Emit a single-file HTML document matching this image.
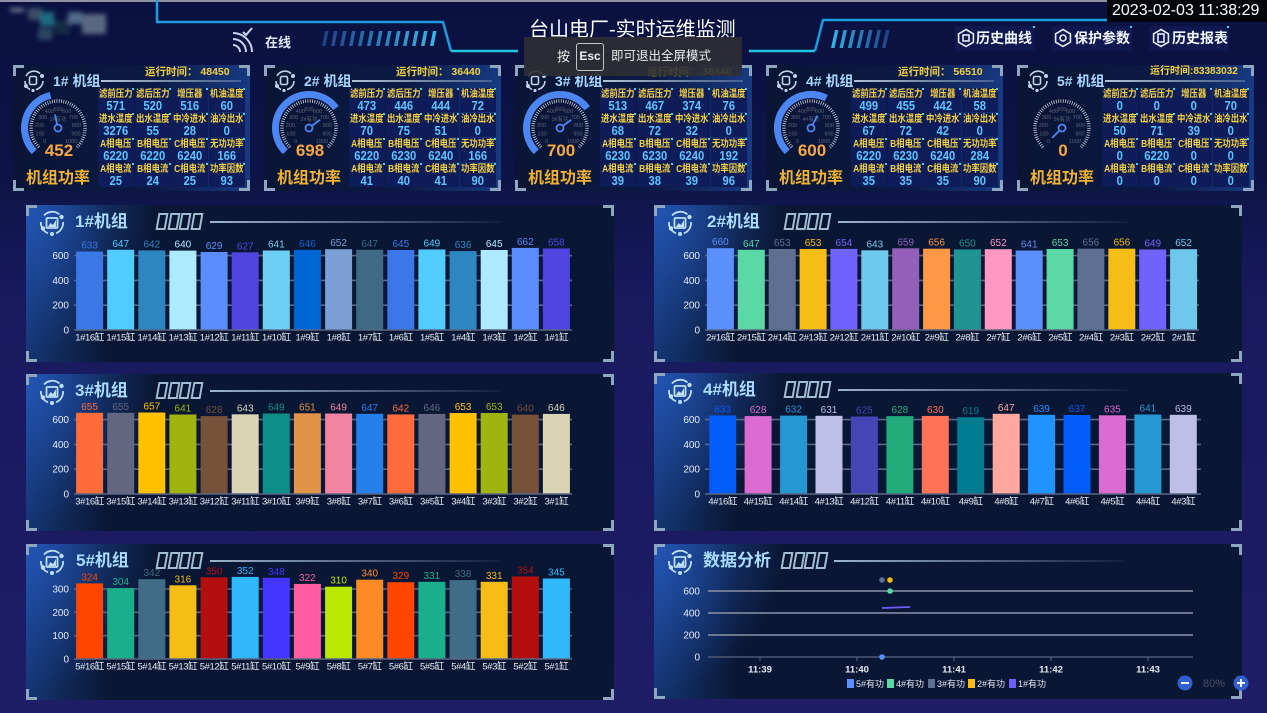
<!DOCTYPE html>
<html><head><meta charset="utf-8">
<style>
*{box-sizing:border-box;margin:0;padding:0}
body{width:1267px;height:713px;overflow:hidden;position:relative;font-family:"Liberation Sans","Noto Sans CJK SC",sans-serif;background:linear-gradient(180deg,#0a1140 0%,#0d1548 26%,#19195e 42%,#1e1d66 100%);}
.card{position:absolute;top:65px;width:237px;height:126px;background:linear-gradient(90deg,#0a1535 0%,#0b1a44 60%,#173a82 100%);}
.br{position:absolute;width:11px;height:11px;border-color:#8ea6be;border-style:solid;border-width:0}
.tl{left:0;top:0;border-left-width:3px;border-top-width:3px}
.tr{right:0;top:0;border-right-width:3px;border-top-width:3px}
.bl{left:0;bottom:0;border-left-width:3px;border-bottom-width:3px}
.bR{right:0;bottom:0;border-right-width:3px;border-bottom-width:3px}
.ct{position:absolute;left:40px;top:7px;font-size:14px;font-weight:bold;color:#a8d8ff;line-height:18px;white-space:nowrap}
.cl{position:absolute;left:88px;top:15px;width:140px;height:2px;background:linear-gradient(90deg,#b0c4d8,rgba(160,180,200,0.35))}
.rt{position:absolute;top:1px;font-size:10.5px;font-weight:bold;color:#f2d040;white-space:nowrap;line-height:12px}
.grid{position:absolute;left:85px;top:23px;width:147px;height:100px;display:grid;grid-template-columns:repeat(4,35.5px);grid-template-rows:repeat(4,24px);gap:1px 1.5px}
.cell{background:#0e1c5a;position:relative;text-align:center;overflow:hidden}
.cell:after{content:"";position:absolute;right:0;top:0;width:2px;height:2px;background:#35d6f0}
.lb{display:block;font-size:10px;font-weight:bold;color:#f5d23f;line-height:11px;margin-top:1px;white-space:nowrap;transform:scaleX(0.84);margin-left:-6px;margin-right:-6px}
.vl{display:block;font-size:12.5px;font-weight:bold;color:#5cc4ff;line-height:13px;transform:scaleX(0.9)}
.gv{position:absolute;left:1px;width:90px;top:77px;text-align:center;font-size:17px;font-weight:bold;color:#f6a742;line-height:18px}
.gt{position:absolute;left:0;width:90px;top:105px;text-align:center;font-size:16px;font-weight:bold;color:#f1b232;line-height:18px}
.gs{position:absolute;left:0;top:18px}
.ic{position:absolute;left:9px;top:5px}
.panel{position:absolute;width:588px;height:157px;background:radial-gradient(ellipse 130px 150px at 0% 0%,rgba(40,100,210,0.7),rgba(40,100,210,0) 100%),linear-gradient(90deg,rgba(30,80,170,0.55) 0%,rgba(30,80,170,0) 14%),#0a1734;}
.pi{position:absolute;left:12px;top:4px}
.pt{position:absolute;left:49px;top:7px;font-size:17px;font-weight:bold;color:#a9dcff;line-height:20px;white-space:nowrap}
.tofu{position:absolute;left:131px;top:8px;white-space:nowrap;font-size:0}
.tofu i{display:inline-block;width:9.5px;height:17px;border:2px solid #a3bdd0;margin-right:2px;transform:skewX(-10deg)}
.pl{position:absolute;left:184px;top:16px;width:290px;height:2px;background:linear-gradient(90deg,#9ab4c8,rgba(154,180,200,0.05))}
.hb{position:absolute;top:30px;font-size:14px;font-weight:bold;color:#f2f6ff;line-height:16px;white-space:nowrap}
.xl{letter-spacing:-0.4px}
</style></head>
<body>

<svg width="1267" height="64" style="position:absolute;left:0;top:0">
<defs>
<linearGradient id="sg" gradientUnits="userSpaceOnUse" x1="320" y1="0" x2="436" y2="0"><stop offset="0" stop-color="#1b3f86"/><stop offset="1" stop-color="#3ab6e8"/></linearGradient>
<linearGradient id="sg2" gradientUnits="userSpaceOnUse" x1="830" y1="0" x2="890" y2="0"><stop offset="0" stop-color="#3ab6e8"/><stop offset="1" stop-color="#1b3f86"/></linearGradient>
<filter id="bl"><feGaussianBlur stdDeviation="2.5"/></filter>
</defs>
<rect x="0" y="0" width="1267" height="2" fill="#8d93a2"/>
<g filter="url(#bl)">
<rect x="28" y="8" width="14" height="12" fill="#3d4d66"/>
<rect x="40" y="12" width="14" height="14" fill="#1c6b7e"/>
<rect x="54" y="20" width="16" height="14" fill="#122a44"/>
<rect x="68" y="12" width="14" height="12" fill="#4f6a88"/>
<rect x="82" y="14" width="24" height="20" fill="#5a6780"/>
<rect x="38" y="28" width="14" height="12" fill="#2a4460"/>
<rect x="10" y="8" width="14" height="4" fill="#6c7790"/>
</g>
<polyline points="157,0 157,22 443,22 451,51" fill="none" stroke="#1b9be0" stroke-width="2.5"/>
<polyline points="451,51 518,51" fill="none" stroke="#22c6dc" stroke-width="2.5"/>
<polyline points="749,51 815,51" fill="none" stroke="#22c6dc" stroke-width="2.5"/>
<polyline points="815,51 823,20 1110,20" fill="none" stroke="#1b9be0" stroke-width="2.5"/>
<g fill="url(#sg)">
<polygon points="325,31 328.5,31 325.5,46 322,46"/><polygon points="334,31 337.5,31 334.5,46 331,46"/><polygon points="343,31 346.5,31 343.5,46 340,46"/><polygon points="352,31 355.5,31 352.5,46 349,46"/><polygon points="361,31 364.5,31 361.5,46 358,46"/><polygon points="370,31 373.5,31 370.5,46 367,46"/><polygon points="379,31 382.5,31 379.5,46 376,46"/><polygon points="388,31 391.5,31 388.5,46 385,46"/><polygon points="397,31 400.5,31 397.5,46 394,46"/><polygon points="406,31 409.5,31 406.5,46 403,46"/><polygon points="415,31 418.5,31 415.5,46 412,46"/><polygon points="424,31 427.5,31 424.5,46 421,46"/><polygon points="433,31 436.5,31 433.5,46 430,46"/>
</g>
<g fill="url(#sg2)">
<polygon points="835,30 838.5,30 834.5,48 831,48"/><polygon points="843.5,30 847,30 843,48 839.5,48"/><polygon points="852,30 855.5,30 851.5,48 848,48"/><polygon points="860.5,30 864,30 860,48 856.5,48"/><polygon points="869,30 872.5,30 868.5,48 865,48"/><polygon points="877.5,30 881,30 877,48 873.5,48"/><polygon points="886,30 889.5,30 885.5,48 882,48"/>
</g>
<g fill="none" stroke="#c9d5e6" stroke-width="2">
<path d="M233 45 A7 7 0 0 1 240 52"/><path d="M233 39 A13 13 0 0 1 246 52"/><path d="M233 33 A19 19 0 0 1 252 52"/>
<path d="M243 32 L246 35 L252 28"/>
</g>
<rect x="955" y="26" width="80" height="25" fill="#111c55" opacity="0.7"/>
<rect x="1052" y="26" width="80" height="25" fill="#111c55" opacity="0.7"/>
<rect x="1149" y="26" width="80" height="25" fill="#111c55" opacity="0.7"/>
<g fill="#35d6f0"><rect x="1033" y="26" width="2" height="2"/><rect x="1130" y="26" width="2" height="2"/><rect x="1227" y="26" width="2" height="2"/></g>
<g fill="none" stroke="#e8eef8" stroke-width="1.6">
<polygon points="966,29.5 973.4,33.8 973.4,42.2 966,46.5 958.6,42.2 958.6,33.8"/>
<polygon points="1063,29.5 1070.4,33.8 1070.4,42.2 1063,46.5 1055.6,42.2 1055.6,33.8"/>
<polygon points="1161,29.5 1168.4,33.8 1168.4,42.2 1161,46.5 1153.6,42.2 1153.6,33.8"/>
<rect x="963" y="35" width="6" height="6"/><circle cx="1063" cy="38" r="3"/><rect x="1158" y="34" width="6" height="8"/>
</g>
<rect x="1107" y="0" width="160" height="22" fill="#03050b"/>
</svg>

<div style="position:absolute;left:1112px;top:1px;font-size:16px;color:#fff;line-height:20px;white-space:nowrap">2023-02-03 11:38:29</div>
<div style="position:absolute;left:529px;top:18px;font-size:20px;color:#fff;line-height:24px;white-space:nowrap">台山电厂-实时运维监测</div>
<div style="position:absolute;left:265px;top:35px;font-size:13px;font-weight:bold;color:#dfe8f5;line-height:16px">在线</div>
<div class="hb" style="left:976px">历史曲线</div>
<div class="hb" style="left:1074px">保护参数</div>
<div class="hb" style="left:1172px">历史报表</div>

<div class="card" style="left:13px">
<div class="br tl"></div><div class="br tr"></div><div class="br bl"></div><div class="br bR"></div>
<svg class="ic" width="24" height="22" viewBox="0 0 24 22"><g fill="none" stroke="#c3d3e6" stroke-width="1.6"><path d="M4 6 A9 9 0 0 1 18 3.5"/><path d="M21 11 A9 9 0 0 1 14 19.5"/><path d="M8 19.5 A9 9 0 0 1 3 11"/><rect x="7.5" y="6.5" width="7" height="8" rx="1.5"/></g><g fill="#c3d3e6"><circle cx="20" cy="6" r="2"/><circle cx="4" cy="16" r="2"/><circle cx="11" cy="20.5" r="1.6"/></g></svg>
<div class="ct">1# 机组</div><div class="cl"></div>
<div class="rt" style="left:132px">运行时间：&nbsp;48450</div>
<svg class="gs" width="90" height="90"><path d="M21.31 68.69 A33.5 33.5 0 0 1 37.49 12.35" stroke="#4d86f2" stroke-width="7" fill="none"/><path d="M25.91 64.09 A27 27 0 1 1 64.09 64.09" stroke="#dfe6f0" stroke-width="3.5" fill="none" stroke-dasharray="0.7 1.6"/><g font-size="5.5" fill="#5b6275" text-anchor="middle"><text x="31.6" y="60">0</text><text x="27" y="52.5">100</text><text x="26.5" y="44">200</text><text x="29.6" y="35.8">300</text><text x="36.4" y="30">400</text><text x="45" y="28">500</text><text x="53.6" y="30">600</text><text x="60.4" y="35.8">700</text><text x="63.5" y="44">800</text><text x="63" y="52.5">900</text><text x="58" y="60">1000</text><text x="45" y="38">1#有功</text></g><circle cx="45" cy="45" r="3.5" stroke="#4d86f2" stroke-width="1.8" fill="none"/><line x1="44.2" y1="41.6" x2="41.9" y2="31.4" stroke="#4d86f2" stroke-width="1.8"/></svg>
<div class="gv">452</div><div class="gt">机组功率</div>
<div class="grid">
<div class="cell"><span class="lb">滤前压力</span><span class="vl">571</span></div><div class="cell"><span class="lb">滤后压力</span><span class="vl">520</span></div><div class="cell"><span class="lb">增压器</span><span class="vl">516</span></div><div class="cell"><span class="lb">机油温度</span><span class="vl">60</span></div>
<div class="cell"><span class="lb">进水温度</span><span class="vl">3276</span></div><div class="cell"><span class="lb">出水温度</span><span class="vl">55</span></div><div class="cell"><span class="lb">中冷进水</span><span class="vl">28</span></div><div class="cell"><span class="lb">油冷出水</span><span class="vl">0</span></div>
<div class="cell"><span class="lb">A相电压</span><span class="vl">6220</span></div><div class="cell"><span class="lb">B相电压</span><span class="vl">6220</span></div><div class="cell"><span class="lb">C相电压</span><span class="vl">6240</span></div><div class="cell"><span class="lb">无功功率</span><span class="vl">166</span></div>
<div class="cell"><span class="lb">A相电流</span><span class="vl">25</span></div><div class="cell"><span class="lb">B相电流</span><span class="vl">24</span></div><div class="cell"><span class="lb">C相电流</span><span class="vl">25</span></div><div class="cell"><span class="lb">功率因数</span><span class="vl">93</span></div>
</div></div>

<div class="card" style="left:264px">
<div class="br tl"></div><div class="br tr"></div><div class="br bl"></div><div class="br bR"></div>
<svg class="ic" width="24" height="22" viewBox="0 0 24 22"><g fill="none" stroke="#c3d3e6" stroke-width="1.6"><path d="M4 6 A9 9 0 0 1 18 3.5"/><path d="M21 11 A9 9 0 0 1 14 19.5"/><path d="M8 19.5 A9 9 0 0 1 3 11"/><rect x="7.5" y="6.5" width="7" height="8" rx="1.5"/></g><g fill="#c3d3e6"><circle cx="20" cy="6" r="2"/><circle cx="4" cy="16" r="2"/><circle cx="11" cy="20.5" r="1.6"/></g></svg>
<div class="ct">2# 机组</div><div class="cl"></div>
<div class="rt" style="left:132px">运行时间：&nbsp;36440</div>
<svg class="gs" width="90" height="90"><path d="M21.31 68.69 A33.5 33.5 0 1 1 71.91 25.06" stroke="#4d86f2" stroke-width="7" fill="none"/><path d="M25.91 64.09 A27 27 0 1 1 64.09 64.09" stroke="#dfe6f0" stroke-width="3.5" fill="none" stroke-dasharray="0.7 1.6"/><g font-size="5.5" fill="#5b6275" text-anchor="middle"><text x="31.6" y="60">0</text><text x="27" y="52.5">100</text><text x="26.5" y="44">200</text><text x="29.6" y="35.8">300</text><text x="36.4" y="30">400</text><text x="45" y="28">500</text><text x="53.6" y="30">600</text><text x="60.4" y="35.8">700</text><text x="63.5" y="44">800</text><text x="63" y="52.5">900</text><text x="58" y="60">1000</text><text x="45" y="38">2#有功</text></g><circle cx="45" cy="45" r="3.5" stroke="#4d86f2" stroke-width="1.8" fill="none"/><line x1="47.8" y1="42.9" x2="56.2" y2="36.7" stroke="#4d86f2" stroke-width="1.8"/></svg>
<div class="gv">698</div><div class="gt">机组功率</div>
<div class="grid">
<div class="cell"><span class="lb">滤前压力</span><span class="vl">473</span></div><div class="cell"><span class="lb">滤后压力</span><span class="vl">446</span></div><div class="cell"><span class="lb">增压器</span><span class="vl">444</span></div><div class="cell"><span class="lb">机油温度</span><span class="vl">72</span></div>
<div class="cell"><span class="lb">进水温度</span><span class="vl">70</span></div><div class="cell"><span class="lb">出水温度</span><span class="vl">75</span></div><div class="cell"><span class="lb">中冷进水</span><span class="vl">51</span></div><div class="cell"><span class="lb">油冷出水</span><span class="vl">0</span></div>
<div class="cell"><span class="lb">A相电压</span><span class="vl">6220</span></div><div class="cell"><span class="lb">B相电压</span><span class="vl">6230</span></div><div class="cell"><span class="lb">C相电压</span><span class="vl">6240</span></div><div class="cell"><span class="lb">无功功率</span><span class="vl">166</span></div>
<div class="cell"><span class="lb">A相电流</span><span class="vl">41</span></div><div class="cell"><span class="lb">B相电流</span><span class="vl">40</span></div><div class="cell"><span class="lb">C相电流</span><span class="vl">41</span></div><div class="cell"><span class="lb">功率因数</span><span class="vl">90</span></div>
</div></div>

<div class="card" style="left:515px">
<div class="br tl"></div><div class="br tr"></div><div class="br bl"></div><div class="br bR"></div>
<svg class="ic" width="24" height="22" viewBox="0 0 24 22"><g fill="none" stroke="#c3d3e6" stroke-width="1.6"><path d="M4 6 A9 9 0 0 1 18 3.5"/><path d="M21 11 A9 9 0 0 1 14 19.5"/><path d="M8 19.5 A9 9 0 0 1 3 11"/><rect x="7.5" y="6.5" width="7" height="8" rx="1.5"/></g><g fill="#c3d3e6"><circle cx="20" cy="6" r="2"/><circle cx="4" cy="16" r="2"/><circle cx="11" cy="20.5" r="1.6"/></g></svg>
<div class="ct">3# 机组</div><div class="cl"></div>
<div class="rt" style="left:132px">运行时间：&nbsp;36440</div>
<svg class="gs" width="90" height="90"><path d="M21.31 68.69 A33.5 33.5 0 1 1 72.1 25.31" stroke="#4d86f2" stroke-width="7" fill="none"/><path d="M25.91 64.09 A27 27 0 1 1 64.09 64.09" stroke="#dfe6f0" stroke-width="3.5" fill="none" stroke-dasharray="0.7 1.6"/><g font-size="5.5" fill="#5b6275" text-anchor="middle"><text x="31.6" y="60">0</text><text x="27" y="52.5">100</text><text x="26.5" y="44">200</text><text x="29.6" y="35.8">300</text><text x="36.4" y="30">400</text><text x="45" y="28">500</text><text x="53.6" y="30">600</text><text x="60.4" y="35.8">700</text><text x="63.5" y="44">800</text><text x="63" y="52.5">900</text><text x="58" y="60">1000</text><text x="45" y="38">3#有功</text></g><circle cx="45" cy="45" r="3.5" stroke="#4d86f2" stroke-width="1.8" fill="none"/><line x1="47.8" y1="42.9" x2="56.3" y2="36.8" stroke="#4d86f2" stroke-width="1.8"/></svg>
<div class="gv">700</div><div class="gt">机组功率</div>
<div class="grid">
<div class="cell"><span class="lb">滤前压力</span><span class="vl">513</span></div><div class="cell"><span class="lb">滤后压力</span><span class="vl">467</span></div><div class="cell"><span class="lb">增压器</span><span class="vl">374</span></div><div class="cell"><span class="lb">机油温度</span><span class="vl">76</span></div>
<div class="cell"><span class="lb">进水温度</span><span class="vl">68</span></div><div class="cell"><span class="lb">出水温度</span><span class="vl">72</span></div><div class="cell"><span class="lb">中冷进水</span><span class="vl">32</span></div><div class="cell"><span class="lb">油冷出水</span><span class="vl">0</span></div>
<div class="cell"><span class="lb">A相电压</span><span class="vl">6230</span></div><div class="cell"><span class="lb">B相电压</span><span class="vl">6230</span></div><div class="cell"><span class="lb">C相电压</span><span class="vl">6240</span></div><div class="cell"><span class="lb">无功功率</span><span class="vl">192</span></div>
<div class="cell"><span class="lb">A相电流</span><span class="vl">39</span></div><div class="cell"><span class="lb">B相电流</span><span class="vl">38</span></div><div class="cell"><span class="lb">C相电流</span><span class="vl">39</span></div><div class="cell"><span class="lb">功率因数</span><span class="vl">96</span></div>
</div></div>

<div class="card" style="left:766px">
<div class="br tl"></div><div class="br tr"></div><div class="br bl"></div><div class="br bR"></div>
<svg class="ic" width="24" height="22" viewBox="0 0 24 22"><g fill="none" stroke="#c3d3e6" stroke-width="1.6"><path d="M4 6 A9 9 0 0 1 18 3.5"/><path d="M21 11 A9 9 0 0 1 14 19.5"/><path d="M8 19.5 A9 9 0 0 1 3 11"/><rect x="7.5" y="6.5" width="7" height="8" rx="1.5"/></g><g fill="#c3d3e6"><circle cx="20" cy="6" r="2"/><circle cx="4" cy="16" r="2"/><circle cx="11" cy="20.5" r="1.6"/></g></svg>
<div class="ct">4# 机组</div><div class="cl"></div>
<div class="rt" style="left:132px">运行时间：&nbsp;56510</div>
<svg class="gs" width="90" height="90"><path d="M21.31 68.69 A33.5 33.5 0 0 1 60.21 15.15" stroke="#4d86f2" stroke-width="7" fill="none"/><path d="M25.91 64.09 A27 27 0 1 1 64.09 64.09" stroke="#dfe6f0" stroke-width="3.5" fill="none" stroke-dasharray="0.7 1.6"/><g font-size="5.5" fill="#5b6275" text-anchor="middle"><text x="31.6" y="60">0</text><text x="27" y="52.5">100</text><text x="26.5" y="44">200</text><text x="29.6" y="35.8">300</text><text x="36.4" y="30">400</text><text x="45" y="28">500</text><text x="53.6" y="30">600</text><text x="60.4" y="35.8">700</text><text x="63.5" y="44">800</text><text x="63" y="52.5">900</text><text x="58" y="60">1000</text><text x="45" y="38">4#有功</text></g><circle cx="45" cy="45" r="3.5" stroke="#4d86f2" stroke-width="1.8" fill="none"/><line x1="46.6" y1="41.9" x2="51.4" y2="32.5" stroke="#4d86f2" stroke-width="1.8"/></svg>
<div class="gv">600</div><div class="gt">机组功率</div>
<div class="grid">
<div class="cell"><span class="lb">滤前压力</span><span class="vl">499</span></div><div class="cell"><span class="lb">滤后压力</span><span class="vl">455</span></div><div class="cell"><span class="lb">增压器</span><span class="vl">442</span></div><div class="cell"><span class="lb">机油温度</span><span class="vl">58</span></div>
<div class="cell"><span class="lb">进水温度</span><span class="vl">67</span></div><div class="cell"><span class="lb">出水温度</span><span class="vl">72</span></div><div class="cell"><span class="lb">中冷进水</span><span class="vl">42</span></div><div class="cell"><span class="lb">油冷出水</span><span class="vl">0</span></div>
<div class="cell"><span class="lb">A相电压</span><span class="vl">6220</span></div><div class="cell"><span class="lb">B相电压</span><span class="vl">6230</span></div><div class="cell"><span class="lb">C相电压</span><span class="vl">6240</span></div><div class="cell"><span class="lb">无功功率</span><span class="vl">284</span></div>
<div class="cell"><span class="lb">A相电流</span><span class="vl">35</span></div><div class="cell"><span class="lb">B相电流</span><span class="vl">35</span></div><div class="cell"><span class="lb">C相电流</span><span class="vl">35</span></div><div class="cell"><span class="lb">功率因数</span><span class="vl">90</span></div>
</div></div>

<div class="card" style="left:1017px">
<div class="br tl"></div><div class="br tr"></div><div class="br bl"></div><div class="br bR"></div>
<svg class="ic" width="24" height="22" viewBox="0 0 24 22"><g fill="none" stroke="#c3d3e6" stroke-width="1.6"><path d="M4 6 A9 9 0 0 1 18 3.5"/><path d="M21 11 A9 9 0 0 1 14 19.5"/><path d="M8 19.5 A9 9 0 0 1 3 11"/><rect x="7.5" y="6.5" width="7" height="8" rx="1.5"/></g><g fill="#c3d3e6"><circle cx="20" cy="6" r="2"/><circle cx="4" cy="16" r="2"/><circle cx="11" cy="20.5" r="1.6"/></g></svg>
<div class="ct">5# 机组</div><div class="cl"></div>
<div class="rt" style="left:133px;font-size:10px">运行时间:83383032</div>
<svg class="gs" width="90" height="90"><path d="M25.91 64.09 A27 27 0 1 1 64.09 64.09" stroke="#dfe6f0" stroke-width="3.5" fill="none" stroke-dasharray="0.7 1.6"/><g font-size="5.5" fill="#5b6275" text-anchor="middle"><text x="31.6" y="60">0</text><text x="27" y="52.5">100</text><text x="26.5" y="44">200</text><text x="29.6" y="35.8">300</text><text x="36.4" y="30">400</text><text x="45" y="28">500</text><text x="53.6" y="30">600</text><text x="60.4" y="35.8">700</text><text x="63.5" y="44">800</text><text x="63" y="52.5">900</text><text x="58" y="60">1000</text><text x="45" y="38">5#有功</text></g><circle cx="45" cy="45" r="3.5" stroke="#4d86f2" stroke-width="1.8" fill="none"/><line x1="42.5" y1="47.5" x2="35.1" y2="54.9" stroke="#4d86f2" stroke-width="1.8"/></svg>
<div class="gv">0</div><div class="gt">机组功率</div>
<div class="grid">
<div class="cell"><span class="lb">滤前压力</span><span class="vl">0</span></div><div class="cell"><span class="lb">滤后压力</span><span class="vl">0</span></div><div class="cell"><span class="lb">增压器</span><span class="vl">0</span></div><div class="cell"><span class="lb">机油温度</span><span class="vl">70</span></div>
<div class="cell"><span class="lb">进水温度</span><span class="vl">50</span></div><div class="cell"><span class="lb">出水温度</span><span class="vl">71</span></div><div class="cell"><span class="lb">中冷进水</span><span class="vl">39</span></div><div class="cell"><span class="lb">油冷出水</span><span class="vl">0</span></div>
<div class="cell"><span class="lb">A相电压</span><span class="vl">0</span></div><div class="cell"><span class="lb">B相电压</span><span class="vl">6220</span></div><div class="cell"><span class="lb">C相电压</span><span class="vl">0</span></div><div class="cell"><span class="lb">无功功率</span><span class="vl">0</span></div>
<div class="cell"><span class="lb">A相电流</span><span class="vl">0</span></div><div class="cell"><span class="lb">B相电流</span><span class="vl">0</span></div><div class="cell"><span class="lb">C相电流</span><span class="vl">0</span></div><div class="cell"><span class="lb">功率因数</span><span class="vl">0</span></div>
</div></div>

<div class="panel" style="left:26px;top:205px">
<div class="br tl"></div><div class="br tr"></div><div class="br bl"></div><div class="br bR"></div>
<svg class="pi" width="28" height="28" viewBox="0 0 28 28"><g fill="none" stroke="#bfe0f6" stroke-width="1.8"><path d="M6 6.5 A11 11 0 0 1 21.5 5.5"/><path d="M25 13 A11 11 0 0 1 18 24.3"/><path d="M10 24.3 A11 11 0 0 1 3 13"/><rect x="8.5" y="9" width="11" height="10" rx="1"/></g><g fill="#bfe0f6"><circle cx="23.5" cy="8" r="2.2"/><circle cx="5" cy="19.5" r="2.2"/><circle cx="14" cy="25" r="2"/><path d="M10 18 L12.5 14 L15 16 L18 11 L18 18Z"/></g></svg>
<div class="pt">1#机组</div><div class="tofu"><i></i><i></i><i></i><i></i></div><div class="pl"></div>
</div>
<div class="panel" style="left:654px;top:205px">
<div class="br tl"></div><div class="br tr"></div><div class="br bl"></div><div class="br bR"></div>
<svg class="pi" width="28" height="28" viewBox="0 0 28 28"><g fill="none" stroke="#bfe0f6" stroke-width="1.8"><path d="M6 6.5 A11 11 0 0 1 21.5 5.5"/><path d="M25 13 A11 11 0 0 1 18 24.3"/><path d="M10 24.3 A11 11 0 0 1 3 13"/><rect x="8.5" y="9" width="11" height="10" rx="1"/></g><g fill="#bfe0f6"><circle cx="23.5" cy="8" r="2.2"/><circle cx="5" cy="19.5" r="2.2"/><circle cx="14" cy="25" r="2"/><path d="M10 18 L12.5 14 L15 16 L18 11 L18 18Z"/></g></svg>
<div class="pt" style="left:53px">2#机组</div><div class="tofu"><i></i><i></i><i></i><i></i></div><div class="pl"></div>
</div>
<div class="panel" style="left:26px;top:374px">
<div class="br tl"></div><div class="br tr"></div><div class="br bl"></div><div class="br bR"></div>
<svg class="pi" width="28" height="28" viewBox="0 0 28 28"><g fill="none" stroke="#bfe0f6" stroke-width="1.8"><path d="M6 6.5 A11 11 0 0 1 21.5 5.5"/><path d="M25 13 A11 11 0 0 1 18 24.3"/><path d="M10 24.3 A11 11 0 0 1 3 13"/><rect x="8.5" y="9" width="11" height="10" rx="1"/></g><g fill="#bfe0f6"><circle cx="23.5" cy="8" r="2.2"/><circle cx="5" cy="19.5" r="2.2"/><circle cx="14" cy="25" r="2"/><path d="M10 18 L12.5 14 L15 16 L18 11 L18 18Z"/></g></svg>
<div class="pt">3#机组</div><div class="tofu"><i></i><i></i><i></i><i></i></div><div class="pl"></div>
</div>
<div class="panel" style="left:654px;top:373px;height:158px">
<div class="br tl"></div><div class="br tr"></div><div class="br bl"></div><div class="br bR"></div>
<svg class="pi" width="28" height="28" viewBox="0 0 28 28"><g fill="none" stroke="#bfe0f6" stroke-width="1.8"><path d="M6 6.5 A11 11 0 0 1 21.5 5.5"/><path d="M25 13 A11 11 0 0 1 18 24.3"/><path d="M10 24.3 A11 11 0 0 1 3 13"/><rect x="8.5" y="9" width="11" height="10" rx="1"/></g><g fill="#bfe0f6"><circle cx="23.5" cy="8" r="2.2"/><circle cx="5" cy="19.5" r="2.2"/><circle cx="14" cy="25" r="2"/><path d="M10 18 L12.5 14 L15 16 L18 11 L18 18Z"/></g></svg>
<div class="pt">4#机组</div><div class="tofu"><i></i><i></i><i></i><i></i></div><div class="pl"></div>
</div>
<div class="panel" style="left:26px;top:544px;height:156px">
<div class="br tl"></div><div class="br tr"></div><div class="br bl"></div><div class="br bR"></div>
<svg class="pi" width="28" height="28" viewBox="0 0 28 28"><g fill="none" stroke="#bfe0f6" stroke-width="1.8"><path d="M6 6.5 A11 11 0 0 1 21.5 5.5"/><path d="M25 13 A11 11 0 0 1 18 24.3"/><path d="M10 24.3 A11 11 0 0 1 3 13"/><rect x="8.5" y="9" width="11" height="10" rx="1"/></g><g fill="#bfe0f6"><circle cx="23.5" cy="8" r="2.2"/><circle cx="5" cy="19.5" r="2.2"/><circle cx="14" cy="25" r="2"/><path d="M10 18 L12.5 14 L15 16 L18 11 L18 18Z"/></g></svg>
<div class="pt" style="left:50px">5#机组</div><div class="tofu"><i></i><i></i><i></i><i></i></div><div class="pl"></div>
</div>
<div class="panel" style="left:654px;top:544px;height:155px">
<div class="br tl"></div><div class="br tr"></div><div class="br bl"></div><div class="br bR"></div>
<svg class="pi" width="28" height="28" viewBox="0 0 28 28"><g fill="none" stroke="#bfe0f6" stroke-width="1.8"><path d="M6 6.5 A11 11 0 0 1 21.5 5.5"/><path d="M25 13 A11 11 0 0 1 18 24.3"/><path d="M10 24.3 A11 11 0 0 1 3 13"/><rect x="8.5" y="9" width="11" height="10" rx="1"/></g><g fill="#bfe0f6"><circle cx="23.5" cy="8" r="2.2"/><circle cx="5" cy="19.5" r="2.2"/><circle cx="14" cy="25" r="2"/><path d="M10 18 L12.5 14 L15 16 L18 11 L18 18Z"/></g></svg>
<div class="pt">数据分析</div><div class="tofu" style="left:128px"><i></i><i></i><i></i><i></i></div><div class="pl" style="left:180px"></div>
</div>

<svg width="1267" height="713" style="position:absolute;left:0;top:0" font-family="'Liberation Sans','Noto Sans CJK SC',sans-serif">
<g transform="translate(74,330)">
<g stroke="#5a6783" stroke-width="1.6"><line x1="0" x2="498" y1="-74.4" y2="-74.4"/><line x1="0" x2="498" y1="-49.6" y2="-49.6"/><line x1="0" x2="498" y1="-24.8" y2="-24.8"/></g>
<g font-size="10" fill="#e6ecf5" text-anchor="end"><text x="-5" y="3.5">0</text><text x="-5" y="-21.3">200</text><text x="-5" y="-46.1">400</text><text x="-5" y="-70.9">600</text></g>
<rect x="2.1" y="-78.5" width="27" height="78.5" fill="#3a78e8"/><rect x="33.2" y="-80.2" width="27" height="80.2" fill="#52cbff"/><rect x="64.3" y="-79.6" width="27" height="79.6" fill="#2e86c1"/><rect x="95.4" y="-79.4" width="27" height="79.4" fill="#aeeaff"/><rect x="126.6" y="-78" width="27" height="78" fill="#5a8cff"/><rect x="157.7" y="-77.7" width="27" height="77.7" fill="#4f46e0"/><rect x="188.8" y="-79.5" width="27" height="79.5" fill="#6fd0f5"/><rect x="219.9" y="-80.1" width="27" height="80.1" fill="#0066d6"/><rect x="251.1" y="-80.8" width="27" height="80.8" fill="#7aa0d6"/><rect x="282.2" y="-80.2" width="27" height="80.2" fill="#3e6a85"/><rect x="313.3" y="-80" width="27" height="80" fill="#3a78e8"/><rect x="344.4" y="-80.5" width="27" height="80.5" fill="#52cbff"/><rect x="375.6" y="-78.9" width="27" height="78.9" fill="#2e86c1"/><rect x="406.7" y="-80" width="27" height="80" fill="#aeeaff"/><rect x="437.8" y="-82.1" width="27" height="82.1" fill="#5a8cff"/><rect x="468.9" y="-81.6" width="27" height="81.6" fill="#4f46e0"/>
<line x1="0" x2="498" y1="0" y2="0" stroke="#5a6783" stroke-width="1.6"/>
<g font-size="10" text-anchor="middle"><text x="15.6" y="-81.5" fill="#3a78e8">633</text><text x="46.7" y="-83.2" fill="#52cbff">647</text><text x="77.8" y="-82.6" fill="#2e86c1">642</text><text x="108.9" y="-82.4" fill="#aeeaff">640</text><text x="140.1" y="-81" fill="#5a8cff">629</text><text x="171.2" y="-80.7" fill="#4f46e0">627</text><text x="202.3" y="-82.5" fill="#6fd0f5">641</text><text x="233.4" y="-83.1" fill="#0066d6">646</text><text x="264.6" y="-83.8" fill="#7aa0d6">652</text><text x="295.7" y="-83.2" fill="#3e6a85">647</text><text x="326.8" y="-83" fill="#3a78e8">645</text><text x="357.9" y="-83.5" fill="#52cbff">649</text><text x="389.1" y="-81.9" fill="#2e86c1">636</text><text x="420.2" y="-83" fill="#aeeaff">645</text><text x="451.3" y="-85.1" fill="#5a8cff">662</text><text x="482.4" y="-84.6" fill="#4f46e0">658</text></g>
<g class="xl" font-size="9.5" fill="#e6ecf5" text-anchor="middle"><text x="15.6" y="10.5">1#16缸</text><text x="46.7" y="10.5">1#15缸</text><text x="77.8" y="10.5">1#14缸</text><text x="108.9" y="10.5">1#13缸</text><text x="140.1" y="10.5">1#12缸</text><text x="171.2" y="10.5">1#11缸</text><text x="202.3" y="10.5">1#10缸</text><text x="233.4" y="10.5">1#9缸</text><text x="264.6" y="10.5">1#8缸</text><text x="295.7" y="10.5">1#7缸</text><text x="326.8" y="10.5">1#6缸</text><text x="357.9" y="10.5">1#5缸</text><text x="389.1" y="10.5">1#4缸</text><text x="420.2" y="10.5">1#3缸</text><text x="451.3" y="10.5">1#2缸</text><text x="482.4" y="10.5">1#1缸</text></g>
</g>
<g transform="translate(705,330)">
<g stroke="#5a6783" stroke-width="1.6"><line x1="0" x2="494" y1="-74.4" y2="-74.4"/><line x1="0" x2="494" y1="-49.6" y2="-49.6"/><line x1="0" x2="494" y1="-24.8" y2="-24.8"/></g>
<g font-size="10" fill="#e6ecf5" text-anchor="end"><text x="-5" y="3.5">0</text><text x="-5" y="-21.3">200</text><text x="-5" y="-46.1">400</text><text x="-5" y="-70.9">600</text></g>
<rect x="1.9" y="-81.8" width="27" height="81.8" fill="#5b8ff9"/><rect x="32.8" y="-80.2" width="27" height="80.2" fill="#5ad8a6"/><rect x="63.7" y="-81" width="27" height="81" fill="#5d7092"/><rect x="94.6" y="-81" width="27" height="81" fill="#f6bd16"/><rect x="125.4" y="-81.1" width="27" height="81.1" fill="#7262fd"/><rect x="156.3" y="-79.7" width="27" height="79.7" fill="#6dc8ec"/><rect x="187.2" y="-81.7" width="27" height="81.7" fill="#945fb9"/><rect x="218.1" y="-81.3" width="27" height="81.3" fill="#ff9845"/><rect x="248.9" y="-80.6" width="27" height="80.6" fill="#1e9493"/><rect x="279.8" y="-80.8" width="27" height="80.8" fill="#ff99c3"/><rect x="310.7" y="-79.5" width="27" height="79.5" fill="#5b8ff9"/><rect x="341.6" y="-81" width="27" height="81" fill="#5ad8a6"/><rect x="372.4" y="-81.3" width="27" height="81.3" fill="#5d7092"/><rect x="403.3" y="-81.3" width="27" height="81.3" fill="#f6bd16"/><rect x="434.2" y="-80.5" width="27" height="80.5" fill="#7262fd"/><rect x="465.1" y="-80.8" width="27" height="80.8" fill="#6dc8ec"/>
<line x1="0" x2="494" y1="0" y2="0" stroke="#5a6783" stroke-width="1.6"/>
<g font-size="10" text-anchor="middle"><text x="15.4" y="-84.8" fill="#5b8ff9">660</text><text x="46.3" y="-83.2" fill="#5ad8a6">647</text><text x="77.2" y="-84" fill="#5d7092">653</text><text x="108.1" y="-84" fill="#f6bd16">653</text><text x="138.9" y="-84.1" fill="#7262fd">654</text><text x="169.8" y="-82.7" fill="#6dc8ec">643</text><text x="200.7" y="-84.7" fill="#945fb9">659</text><text x="231.6" y="-84.3" fill="#ff9845">656</text><text x="262.4" y="-83.6" fill="#1e9493">650</text><text x="293.3" y="-83.8" fill="#ff99c3">652</text><text x="324.2" y="-82.5" fill="#5b8ff9">641</text><text x="355.1" y="-84" fill="#5ad8a6">653</text><text x="385.9" y="-84.3" fill="#5d7092">656</text><text x="416.8" y="-84.3" fill="#f6bd16">656</text><text x="447.7" y="-83.5" fill="#7262fd">649</text><text x="478.6" y="-83.8" fill="#6dc8ec">652</text></g>
<g class="xl" font-size="9.5" fill="#e6ecf5" text-anchor="middle"><text x="15.4" y="10.5">2#16缸</text><text x="46.3" y="10.5">2#15缸</text><text x="77.2" y="10.5">2#14缸</text><text x="108.1" y="10.5">2#13缸</text><text x="138.9" y="10.5">2#12缸</text><text x="169.8" y="10.5">2#11缸</text><text x="200.7" y="10.5">2#10缸</text><text x="231.6" y="10.5">2#9缸</text><text x="262.4" y="10.5">2#8缸</text><text x="293.3" y="10.5">2#7缸</text><text x="324.2" y="10.5">2#6缸</text><text x="355.1" y="10.5">2#5缸</text><text x="385.9" y="10.5">2#4缸</text><text x="416.8" y="10.5">2#3缸</text><text x="447.7" y="10.5">2#2缸</text><text x="478.6" y="10.5">2#1缸</text></g>
</g>
<g transform="translate(74,494)">
<g stroke="#5a6783" stroke-width="1.6"><line x1="0" x2="498" y1="-74.4" y2="-74.4"/><line x1="0" x2="498" y1="-49.6" y2="-49.6"/><line x1="0" x2="498" y1="-24.8" y2="-24.8"/></g>
<g font-size="10" fill="#e6ecf5" text-anchor="end"><text x="-5" y="3.5">0</text><text x="-5" y="-21.3">200</text><text x="-5" y="-46.1">400</text><text x="-5" y="-70.9">600</text></g>
<rect x="2.1" y="-81.2" width="27" height="81.2" fill="#ff6b3b"/><rect x="33.2" y="-81.2" width="27" height="81.2" fill="#626681"/><rect x="64.3" y="-81.5" width="27" height="81.5" fill="#ffc100"/><rect x="95.4" y="-79.5" width="27" height="79.5" fill="#9fb40f"/><rect x="126.6" y="-77.9" width="27" height="77.9" fill="#76523b"/><rect x="157.7" y="-79.7" width="27" height="79.7" fill="#dad5b5"/><rect x="188.8" y="-80.5" width="27" height="80.5" fill="#0e8e89"/><rect x="219.9" y="-80.7" width="27" height="80.7" fill="#e19348"/><rect x="251.1" y="-80.5" width="27" height="80.5" fill="#f383a2"/><rect x="282.2" y="-80.2" width="27" height="80.2" fill="#247fea"/><rect x="313.3" y="-79.6" width="27" height="79.6" fill="#ff6b3b"/><rect x="344.4" y="-80.1" width="27" height="80.1" fill="#626681"/><rect x="375.6" y="-81" width="27" height="81" fill="#ffc100"/><rect x="406.7" y="-81" width="27" height="81" fill="#9fb40f"/><rect x="437.8" y="-79.4" width="27" height="79.4" fill="#76523b"/><rect x="468.9" y="-80.1" width="27" height="80.1" fill="#dad5b5"/>
<line x1="0" x2="498" y1="0" y2="0" stroke="#5a6783" stroke-width="1.6"/>
<g font-size="10" text-anchor="middle"><text x="15.6" y="-84.2" fill="#ff6b3b">655</text><text x="46.7" y="-84.2" fill="#626681">655</text><text x="77.8" y="-84.5" fill="#ffc100">657</text><text x="108.9" y="-82.5" fill="#9fb40f">641</text><text x="140.1" y="-80.9" fill="#76523b">628</text><text x="171.2" y="-82.7" fill="#dad5b5">643</text><text x="202.3" y="-83.5" fill="#0e8e89">649</text><text x="233.4" y="-83.7" fill="#e19348">651</text><text x="264.6" y="-83.5" fill="#f383a2">649</text><text x="295.7" y="-83.2" fill="#247fea">647</text><text x="326.8" y="-82.6" fill="#ff6b3b">642</text><text x="357.9" y="-83.1" fill="#626681">646</text><text x="389.1" y="-84" fill="#ffc100">653</text><text x="420.2" y="-84" fill="#9fb40f">653</text><text x="451.3" y="-82.4" fill="#76523b">640</text><text x="482.4" y="-83.1" fill="#dad5b5">646</text></g>
<g class="xl" font-size="9.5" fill="#e6ecf5" text-anchor="middle"><text x="15.6" y="10.5">3#16缸</text><text x="46.7" y="10.5">3#15缸</text><text x="77.8" y="10.5">3#14缸</text><text x="108.9" y="10.5">3#13缸</text><text x="140.1" y="10.5">3#12缸</text><text x="171.2" y="10.5">3#11缸</text><text x="202.3" y="10.5">3#10缸</text><text x="233.4" y="10.5">3#9缸</text><text x="264.6" y="10.5">3#8缸</text><text x="295.7" y="10.5">3#7缸</text><text x="326.8" y="10.5">3#6缸</text><text x="357.9" y="10.5">3#5缸</text><text x="389.1" y="10.5">3#4缸</text><text x="420.2" y="10.5">3#3缸</text><text x="451.3" y="10.5">3#2缸</text><text x="482.4" y="10.5">3#1缸</text></g>
</g>
<g transform="translate(705,494)">
<g stroke="#5a6783" stroke-width="1.6"><line x1="0" x2="496" y1="-74.4" y2="-74.4"/><line x1="0" x2="496" y1="-49.6" y2="-49.6"/><line x1="0" x2="496" y1="-24.8" y2="-24.8"/></g>
<g font-size="10" fill="#e6ecf5" text-anchor="end"><text x="-5" y="3.5">0</text><text x="-5" y="-21.3">200</text><text x="-5" y="-46.1">400</text><text x="-5" y="-70.9">600</text></g>
<rect x="4.2" y="-78.5" width="27" height="78.5" fill="#025dfa"/><rect x="39.6" y="-77.9" width="27" height="77.9" fill="#da6bd0"/><rect x="75.1" y="-78.4" width="27" height="78.4" fill="#2597d2"/><rect x="110.5" y="-78.2" width="27" height="78.2" fill="#bdbfe6"/><rect x="145.9" y="-77.5" width="27" height="77.5" fill="#4545b5"/><rect x="181.4" y="-77.9" width="27" height="77.9" fill="#22aa7a"/><rect x="216.8" y="-78.1" width="27" height="78.1" fill="#ff7256"/><rect x="252.2" y="-76.8" width="27" height="76.8" fill="#007c91"/><rect x="287.7" y="-80.2" width="27" height="80.2" fill="#ffa8a0"/><rect x="323.1" y="-79.2" width="27" height="79.2" fill="#1f93ff"/><rect x="358.5" y="-79" width="27" height="79" fill="#025dfa"/><rect x="393.9" y="-78.7" width="27" height="78.7" fill="#da6bd0"/><rect x="429.4" y="-79.5" width="27" height="79.5" fill="#2597d2"/><rect x="464.8" y="-79.2" width="27" height="79.2" fill="#bdbfe6"/>
<line x1="0" x2="496" y1="0" y2="0" stroke="#5a6783" stroke-width="1.6"/>
<g font-size="10" text-anchor="middle"><text x="17.7" y="-81.5" fill="#025dfa">633</text><text x="53.1" y="-80.9" fill="#da6bd0">628</text><text x="88.6" y="-81.4" fill="#2597d2">632</text><text x="124" y="-81.2" fill="#bdbfe6">631</text><text x="159.4" y="-80.5" fill="#4545b5">625</text><text x="194.9" y="-80.9" fill="#22aa7a">628</text><text x="230.3" y="-81.1" fill="#ff7256">630</text><text x="265.7" y="-79.8" fill="#007c91">619</text><text x="301.2" y="-83.2" fill="#ffa8a0">647</text><text x="336.6" y="-82.2" fill="#1f93ff">639</text><text x="372" y="-82" fill="#025dfa">637</text><text x="407.4" y="-81.7" fill="#da6bd0">635</text><text x="442.9" y="-82.5" fill="#2597d2">641</text><text x="478.3" y="-82.2" fill="#bdbfe6">639</text></g>
<g class="xl" font-size="9.5" fill="#e6ecf5" text-anchor="middle"><text x="17.7" y="10.5">4#16缸</text><text x="53.1" y="10.5">4#15缸</text><text x="88.6" y="10.5">4#14缸</text><text x="124" y="10.5">4#13缸</text><text x="159.4" y="10.5">4#12缸</text><text x="194.9" y="10.5">4#11缸</text><text x="230.3" y="10.5">4#10缸</text><text x="265.7" y="10.5">4#9缸</text><text x="301.2" y="10.5">4#8缸</text><text x="336.6" y="10.5">4#7缸</text><text x="372" y="10.5">4#6缸</text><text x="407.4" y="10.5">4#5缸</text><text x="442.9" y="10.5">4#4缸</text><text x="478.3" y="10.5">4#3缸</text></g>
</g>
<g transform="translate(74,659)">
<g stroke="#5a6783" stroke-width="1.6"><line x1="0" x2="498" y1="-70" y2="-70"/><line x1="0" x2="498" y1="-46.7" y2="-46.7"/><line x1="0" x2="498" y1="-23.3" y2="-23.3"/></g>
<g font-size="10" fill="#e6ecf5" text-anchor="end"><text x="-5" y="3.5">0</text><text x="-5" y="-19.8">100</text><text x="-5" y="-43.2">200</text><text x="-5" y="-66.5">300</text></g>
<rect x="2.1" y="-75.6" width="27" height="75.6" fill="#ff4500"/><rect x="33.2" y="-70.9" width="27" height="70.9" fill="#1aaf8b"/><rect x="64.3" y="-79.8" width="27" height="79.8" fill="#406c85"/><rect x="95.4" y="-73.7" width="27" height="73.7" fill="#f6bd16"/><rect x="126.6" y="-81.7" width="27" height="81.7" fill="#b40f0f"/><rect x="157.7" y="-82.1" width="27" height="82.1" fill="#2fb8fc"/><rect x="188.8" y="-81.2" width="27" height="81.2" fill="#4435ff"/><rect x="219.9" y="-75.1" width="27" height="75.1" fill="#ff5ca2"/><rect x="251.1" y="-72.3" width="27" height="72.3" fill="#bbe800"/><rect x="282.2" y="-79.3" width="27" height="79.3" fill="#fe8a26"/><rect x="313.3" y="-76.8" width="27" height="76.8" fill="#ff4500"/><rect x="344.4" y="-77.2" width="27" height="77.2" fill="#1aaf8b"/><rect x="375.6" y="-78.9" width="27" height="78.9" fill="#406c85"/><rect x="406.7" y="-77.2" width="27" height="77.2" fill="#f6bd16"/><rect x="437.8" y="-82.6" width="27" height="82.6" fill="#b40f0f"/><rect x="468.9" y="-80.5" width="27" height="80.5" fill="#2fb8fc"/>
<line x1="0" x2="498" y1="0" y2="0" stroke="#5a6783" stroke-width="1.6"/>
<g font-size="10" text-anchor="middle"><text x="15.6" y="-78.6" fill="#ff4500">324</text><text x="46.7" y="-73.9" fill="#1aaf8b">304</text><text x="77.8" y="-82.8" fill="#406c85">342</text><text x="108.9" y="-76.7" fill="#f6bd16">316</text><text x="140.1" y="-84.7" fill="#b40f0f">350</text><text x="171.2" y="-85.1" fill="#2fb8fc">352</text><text x="202.3" y="-84.2" fill="#4435ff">348</text><text x="233.4" y="-78.1" fill="#ff5ca2">322</text><text x="264.6" y="-75.3" fill="#bbe800">310</text><text x="295.7" y="-82.3" fill="#fe8a26">340</text><text x="326.8" y="-79.8" fill="#ff4500">329</text><text x="357.9" y="-80.2" fill="#1aaf8b">331</text><text x="389.1" y="-81.9" fill="#406c85">338</text><text x="420.2" y="-80.2" fill="#f6bd16">331</text><text x="451.3" y="-85.6" fill="#b40f0f">354</text><text x="482.4" y="-83.5" fill="#2fb8fc">345</text></g>
<g class="xl" font-size="9.5" fill="#e6ecf5" text-anchor="middle"><text x="15.6" y="10.5">5#16缸</text><text x="46.7" y="10.5">5#15缸</text><text x="77.8" y="10.5">5#14缸</text><text x="108.9" y="10.5">5#13缸</text><text x="140.1" y="10.5">5#12缸</text><text x="171.2" y="10.5">5#11缸</text><text x="202.3" y="10.5">5#10缸</text><text x="233.4" y="10.5">5#9缸</text><text x="264.6" y="10.5">5#8缸</text><text x="295.7" y="10.5">5#7缸</text><text x="326.8" y="10.5">5#6缸</text><text x="357.9" y="10.5">5#5缸</text><text x="389.1" y="10.5">5#4缸</text><text x="420.2" y="10.5">5#3缸</text><text x="451.3" y="10.5">5#2缸</text><text x="482.4" y="10.5">5#1缸</text></g>
</g>
<g transform="translate(708,657)">
<g stroke="#8a93a6" stroke-width="1.6"><line x1="0" x2="485" y1="-66" y2="-66"/><line x1="0" x2="485" y1="-44" y2="-44"/><line x1="0" x2="485" y1="-22" y2="-22"/></g>
<line x1="0" x2="485" y1="0" y2="0" stroke="#4d5872" stroke-width="1.6"/>
<g stroke="#4d5872" stroke-width="1.2"><line x1="52" x2="52" y1="0" y2="4"/><line x1="149" x2="149" y1="0" y2="4"/><line x1="246" x2="246" y1="0" y2="4"/><line x1="343" x2="343" y1="0" y2="4"/><line x1="440" x2="440" y1="0" y2="4"/></g>
<g font-size="10" fill="#e6ecf5" text-anchor="end"><text x="-8" y="3.5">0</text><text x="-8" y="-18.5">200</text><text x="-8" y="-40.5">400</text><text x="-8" y="-62.5">600</text></g>
<g font-size="9.5" font-weight="bold" fill="#e6ecf5" text-anchor="middle"><text x="52" y="15.5">11:39</text><text x="149" y="15.5">11:40</text><text x="246" y="15.5">11:41</text><text x="343" y="15.5">11:42</text><text x="440" y="15.5">11:43</text></g>
<circle cx="174" cy="-77" r="2.8" fill="#5d7092"/><circle cx="182" cy="-77" r="2.8" fill="#f6bd16"/><circle cx="182" cy="-66" r="2.8" fill="#5ad8a6"/>
<line x1="174" y1="-49" x2="202" y2="-50" stroke="#6f5ef9" stroke-width="1.8"/>
<circle cx="174" cy="0" r="2.8" fill="#5b8ff9"/>
</g>
<g font-size="9" fill="#e0e6ef">
<rect x="847" y="679" width="7" height="9" fill="#5b8ff9"/><text x="856" y="687">5#有功</text>
<rect x="887" y="679" width="7" height="9" fill="#5ad8a6"/><text x="896" y="687">4#有功</text>
<rect x="928" y="679" width="7" height="9" fill="#5d7092"/><text x="937" y="687">3#有功</text>
<rect x="968" y="679" width="7" height="9" fill="#f6bd16"/><text x="977" y="687">2#有功</text>
<rect x="1009" y="679" width="7" height="9" fill="#6f5ef9"/><text x="1018" y="687">1#有功</text>
</g>
<circle cx="1185" cy="683" r="7.5" fill="#2f5fd0"/><line x1="1181" y1="683" x2="1189" y2="683" stroke="#fff" stroke-width="1.8"/>
<text x="1203" y="687" font-size="11" fill="#4a5068">80%</text>
<circle cx="1241" cy="683" r="7.5" fill="#2f5fd0"/><line x1="1237" y1="683" x2="1245" y2="683" stroke="#fff" stroke-width="1.8"/><line x1="1241" y1="679" x2="1241" y2="687" stroke="#fff" stroke-width="1.8"/>
</svg>

<div style="position:absolute;left:524px;top:37px;width:218px;height:39px;background:rgba(46,47,52,0.9)">
<div style="position:absolute;left:33px;top:12px;font-size:13px;color:#ececec;line-height:15px">按</div>
<div style="position:absolute;left:52px;top:6px;width:28px;height:28px;border:1.5px solid #c4c4c4;border-radius:3px;font-size:12px;font-weight:bold;color:#f0f0f0;text-align:center;line-height:25px">Esc</div>
<div style="position:absolute;left:87px;top:12px;font-size:12.5px;color:#ececec;line-height:15px;white-space:nowrap">即可退出全屏模式</div>
</div>
</body></html>
